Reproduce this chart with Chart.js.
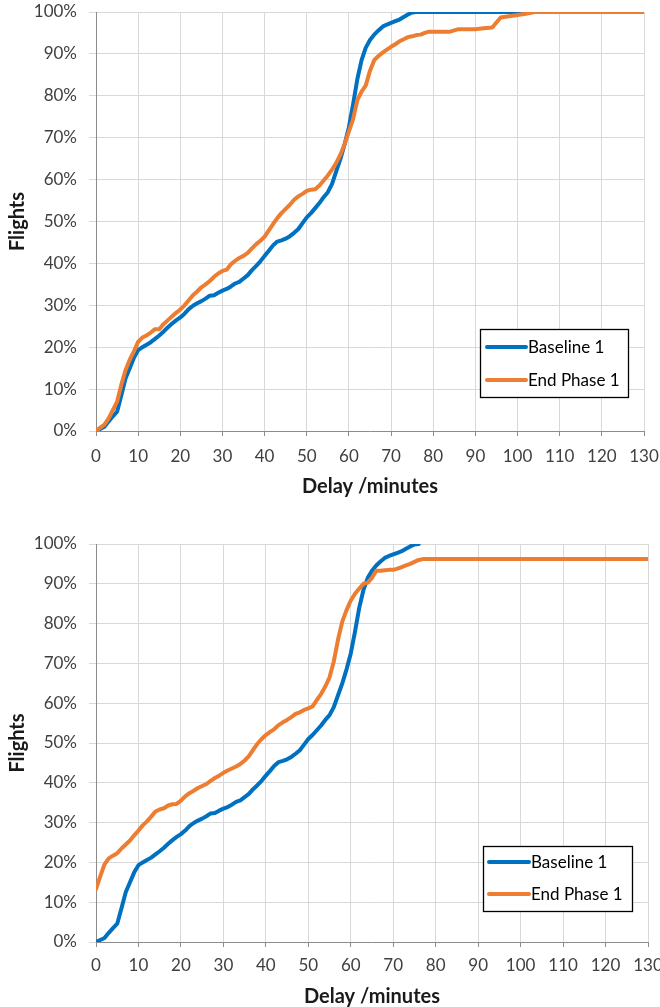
<!DOCTYPE html>
<html><head><meta charset="utf-8">
<script src="https://cdn.jsdelivr.net/npm/chart.js@4.4.1/dist/chart.umd.min.js"></script>
<style>
html,body{margin:0;padding:0;background:#fff;}
#wrap{position:relative;width:660px;height:1007px;overflow:hidden;}
#c1{position:absolute;left:0;top:0;width:660px;height:510px;}
#c2{position:absolute;left:0;top:510px;width:660px;height:497px;}
</style></head><body>
<div id="wrap"><canvas id="c1" width="660" height="510"></canvas><canvas id="c2" width="660" height="497"></canvas></div>
<script>
// ---- data ----
const xTicks = [0,10,20,30,40,50,60,70,80,90,100,110,120,130];
const yTicks = [0,10,20,30,40,50,60,70,80,90,100];
const seriesNames = ['Baseline 1', 'End Phase 1'];

// Baseline 1 (same in both panels)
const baselineMinutes = [0,1,2,3,4,5,6,7,8,9,10,11,12,13,14,15,16,17,18,19,20,21,22,23,24,25,26,27,28,29,30,31,32,33,34,35,36,37,38,39,40,41,42,43,44,45,46,47,48,49,50,51,52,53,54,55,56,57,58,59,60,61,62,63,64,65,66,67,68,69,70,71,72,73,74,75,76];
const baselineValues = [0,0.5,1,2.3,3.5,4.6,8.5,12.5,15,17.5,19.3,20,20.6,21.2,22,22.8,23.7,24.7,25.6,26.4,27.1,28,29.1,29.9,30.5,31,31.6,32.3,32.4,33,33.5,33.9,34.5,35.2,35.6,36.4,37.2,38.4,39.4,40.5,41.8,43,44.3,45.2,45.5,45.9,46.5,47.3,48.2,49.6,51,52,53.2,54.4,55.8,57,59,62,65,68.5,72.5,78,84,88.5,91.5,93.3,94.6,95.6,96.5,97,97.4,97.8,98.2,98.8,99.4,99.9,100];
// top panel: baseline continues flat to the end of the axis
const baselineTailMinutes = [130];
const baselineTailValues = [100];

// End Phase 1, top panel
const phaseTopMinutes = [0,1,2,3,4,5,6,7,8,9,10,11,12,13,14,15,16,17,18,19,20,21,22,23,24,25,26,27,28,29,30,31,32,33,34,35,36,37,38,39,40,41,42,43,44,45,46,47,48,49,50,51,52,53,54,55,56,57,58,59,60,61,62,63,64,65,66,67,68,69,70,71,72,73,74,75,76,77,78,79,80,84,85,86,90,92,94,95,96,98,100,102,104,130];
const phaseTopValues = [0,0.8,1.5,3,5,7,11,14.5,17,19,21.3,22.3,22.8,23.5,24.3,24.3,25.5,26.4,27.3,28.2,29,30,31.2,32.4,33.3,34.3,35,35.8,36.8,37.6,38.2,38.5,39.8,40.6,41.3,41.8,42.5,43.6,44.6,45.4,46.4,47.9,49.4,50.8,52,53,54,55.2,56,56.6,57.3,57.6,57.7,58.6,59.8,61,62.4,64,66,68.5,71.5,74.5,79,81,82.5,86,88.5,89.5,90.3,91,91.7,92.3,93,93.5,94,94.2,94.5,94.6,95,95.3,95.3,95.3,95.6,95.9,95.9,96.1,96.3,97.5,98.7,99,99.3,99.6,100,100];

// End Phase 1, bottom panel
const phaseBottomMinutes = [0,1,2,3,4,5,6,7,8,9,10,11,12,13,14,15,16,17,18,19,20,21,22,23,24,25,26,27,28,29,30,31,32,33,34,35,36,37,38,39,40,41,42,43,44,45,46,47,48,49,50,51,52,53,54,55,56,57,58,59,60,61,62,63,64,65,66,67,68,69,70,71,72,73,74,75,76,77,130];
const phaseBottomValues = [13.3,16.5,19.5,21,21.7,22.3,23.5,24.5,25.5,26.8,28,29.3,30.3,31.5,32.8,33.3,33.6,34.3,34.6,34.7,35.5,36.6,37.4,38,38.7,39.2,39.7,40.5,41.2,41.8,42.5,43.1,43.6,44.1,44.7,45.6,46.7,48.3,49.8,51,52,52.8,53.5,54.5,55.2,55.8,56.5,57.3,57.7,58.3,58.7,59.2,60.8,62.3,64.2,66.5,70.5,76,80.5,83.4,85.8,87.5,88.8,90,90.3,91.5,93.3,93.3,93.4,93.5,93.5,93.8,94.2,94.6,95,95.5,96,96.2,96.2];

// ---- helpers ----
const toXY = (xs, ys) => xs.map((x, i) => ({x: x, y: ys[i]}));
const BLUE = '#0070C0', ORANGE = '#ED7D31';
const FONT = 'Lato, "Open Sans", sans-serif';

const boxLegend = {
  id: 'boxLegend',
  afterDatasetsDraw(chart, args, o) {
    const {ctx, chartArea} = chart;
    const x = chartArea.right - o.right - o.width;
    const y = chartArea.bottom - o.bottom - o.height;
    ctx.save();
    ctx.fillStyle = '#fff';
    ctx.fillRect(x, y, o.width, o.height);
    ctx.strokeStyle = '#000';
    ctx.lineWidth = 1.3;
    ctx.strokeRect(x + 0.5, y + 0.5, o.width, o.height);
    ctx.font = '17px ' + FONT;
    ctx.textBaseline = 'middle';
    ctx.textAlign = 'left';
    chart.data.datasets.forEach((ds, i) => {
      const cy = y + o.firstRow + i * o.rowGap;
      ctx.strokeStyle = ds.borderColor;
      ctx.lineWidth = 4;
      ctx.lineCap = 'round';
      ctx.beginPath();
      ctx.moveTo(x + o.sampleLeft, cy);
      ctx.lineTo(x + o.sampleLeft + o.sampleLen, cy);
      ctx.stroke();
      ctx.fillStyle = '#000';
      ctx.fillText(ds.label, x + o.sampleLeft + o.sampleLen + 2, cy + 1);
    });
    ctx.restore();
  }
};

function makeChart(id, datasets, cfg) {
  return new Chart(document.getElementById(id), {
    type: 'line',
    data: {datasets: datasets},
    plugins: [boxLegend],
    options: {
      responsive: false,
      animation: false,
      layout: {padding: {top: cfg.padTop, right: cfg.padRight, left: 0, bottom: 0}},
      elements: {point: {radius: 0}, line: {tension: 0, borderWidth: 4, borderJoinStyle: 'round', borderCapStyle: 'round'}},
      plugins: {
        legend: {display: false},
        tooltip: {enabled: false},
        boxLegend: cfg.legend
      },
      scales: {
        x: {
          type: 'linear', min: 0, max: 130,
          afterBuildTicks: s => { s.ticks = xTicks.map(v => ({value: v})); },
          afterFit: s => { s.height = cfg.xHeight; s.paddingLeft = 0; s.paddingRight = 0; },
          grid: {color: '#d9d9d9', lineWidth: 1, tickLength: 5, tickColor: '#8c8c8c'},
          border: {color: '#8c8c8c', width: 1},
          ticks: {color: '#404040', font: {family: FONT, size: 17}, padding: cfg.xTickPad, maxRotation: 0, autoSkip: false},
          title: {display: true, text: 'Delay /minutes', color: '#1a1a1a', font: {family: FONT, size: 20, weight: 'bold'}, padding: {top: 0, bottom: cfg.xTitlePad}}
        },
        y: {
          type: 'linear', min: 0, max: 100,
          afterBuildTicks: s => { s.ticks = yTicks.map(v => ({value: v})); },
          afterFit: s => { s.width = 96; s.paddingTop = 0; s.paddingBottom = 0; },
          grid: {color: '#d9d9d9', lineWidth: 1, tickLength: 7, tickColor: '#d9d9d9'},
          border: {color: '#8c8c8c', width: 1},
          ticks: {color: '#404040', font: {family: FONT, size: 17}, padding: 12, callback: v => v + '%'},
          title: {display: true, text: 'Flights', color: '#1a1a1a', font: {family: FONT, size: 20, weight: 'bold'}, padding: {top: 6, bottom: 0}}
        }
      }
    }
  });
}

makeChart('c1', [
  {label: seriesNames[0], data: toXY(baselineMinutes.concat(baselineTailMinutes), baselineValues.concat(baselineTailValues)), borderColor: BLUE, backgroundColor: BLUE, order: 1},
  {label: seriesNames[1], data: toXY(phaseTopMinutes, phaseTopValues), borderColor: ORANGE, backgroundColor: ORANGE, order: 0}
], {padTop: 12, padRight: 16, xHeight: 79, xTickPad: 10, xTitlePad: 11,
    legend: {right: 16, bottom: 34, width: 148, height: 68, firstRow: 18, rowGap: 33, sampleLeft: 7, sampleLen: 39}});

makeChart('c2', [
  {label: seriesNames[0], data: toXY(baselineMinutes, baselineValues), borderColor: BLUE, backgroundColor: BLUE, order: 1},
  {label: seriesNames[1], data: toXY(phaseBottomMinutes, phaseBottomValues), borderColor: ORANGE, backgroundColor: ORANGE, order: 0}
], {padTop: 34, padRight: 12, xHeight: 65, xTickPad: 8, xTitlePad: -2,
    legend: {right: 16, bottom: 31, width: 149, height: 65, firstRow: 16, rowGap: 32, sampleLeft: 6, sampleLen: 40}});
</script>
</body></html>
